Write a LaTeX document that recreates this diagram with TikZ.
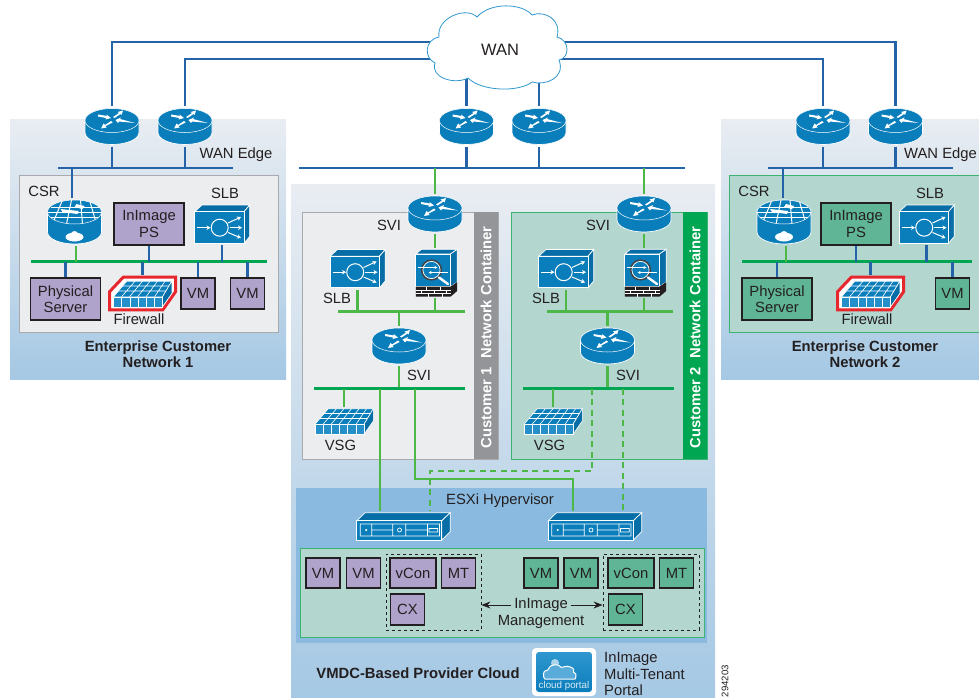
\documentclass[tikz,border=0pt]{standalone}
\usepackage{fontspec}
\setmainfont{Liberation Sans}
\usepackage{xcolor}
\usepackage{tikz}
\usetikzlibrary{arrows.meta,backgrounds}

\definecolor{rtblue}{HTML}{0A7DBB}
\definecolor{rtdark}{HTML}{076DA6}
\definecolor{rtlight}{HTML}{2F97CF}
\definecolor{netblue}{HTML}{2563A9}
\definecolor{netgreen}{HTML}{4DB748}
\definecolor{busgreen}{HTML}{00A651}
\definecolor{vmpurple}{HTML}{B0A3CB}
\definecolor{vmgreen}{HTML}{5FB595}
\definecolor{tealfill}{HTML}{B3D6CF}
\definecolor{tealline}{HTML}{3CB371}
\definecolor{greyfill}{HTML}{EBEDEF}
\definecolor{greyline}{HTML}{A8AAAD}
\definecolor{greyband}{HTML}{939598}
\definecolor{paneltop}{HTML}{E9EDF2}
\definecolor{panelbottom}{HTML}{A5C8E4}
\definecolor{hyperfill}{HTML}{8ABADF}
\definecolor{inktext}{HTML}{231F20}
\definecolor{fwred}{HTML}{E6282E}

\newcommand{\routericon}{%
  \fill[rtblue,draw=white,line width=.7] (-27,-6) -- (-27,6) arc[start angle=180,end angle=0,x radius=27,y radius=12]
    -- (27,-6) arc[start angle=0,end angle=-180,x radius=27,y radius=12] -- cycle;
  \draw[white,fill=rtblue,line width=.5] (0,-6) ellipse[x radius=27,y radius=12];
  \fill[white] (-14,-12) -- (-5,-10.5) -- (-5.5,-12) -- (-1,-8.5) -- (-6.5,-7) -- (-6,-8.5) -- (-14,-10) -- cycle;
  \fill[white] (1,-9.5) -- (7,-13.5) -- (5.5,-14.5) -- (11,-16) -- (9.5,-11.5) -- (8.5,-12.5) -- (2.5,-8.5) -- cycle;
  \fill[white] (23,-3.5) -- (8,-7.5) -- (9,-9) -- (3.5,-6.5) -- (6,-3.5) -- (7,-5) -- cycle;
  \fill[white] (-1,-5.5) -- (-7,-1.5) -- (-8.5,-3) -- (-11,2) -- (-5.5,1) -- (-6.5,-.5) -- (.5,-4) -- cycle;
}
\newcommand{\csricon}{%
  \fill[rtblue,draw=white,line width=.7] (-27,-10) -- (-27,10) arc[start angle=180,end angle=0,x radius=27,y radius=12]
    -- (27,-10) arc[start angle=0,end angle=-180,x radius=27,y radius=12] -- cycle;
  \begin{scope}
    \clip (0,-10) ellipse[x radius=27,y radius=12];
    \fill[rtblue] (-28,-23) rectangle (28,3);
    \draw[white,line width=1] (-24,-15) -- (24,-15) (-28,-10) -- (28,-10) (-24,-5) -- (24,-5);
    \draw[white,line width=1] (-12,-22) -- (-22,2) (-3,-22) -- (-8,2) (6,-22) -- (8,2) (15,-22) -- (22,2);
    \fill[white] (-14,-13) -- (4,-11) -- (3,-8) -- (-12,-10) -- cycle (2,-18) -- (10,-16) -- (8,-13) -- (0,-15) -- cycle;
  \end{scope}
  \draw[white,line width=.5] (0,-10) ellipse[x radius=27,y radius=12];
  \fill[white] (0,15) ellipse[x radius=9,y radius=4.5] (-5,15) circle[radius=3.5] (5,15) circle[radius=3.5] (0,12.5) circle[radius=3.5];
}
\newcommand{\slbicon}{%
  \fill[rtdark,draw=white,line width=.7] (-27.3,-12.3) -- (-20,-19) -- (27.7,-19) -- (22,-12.3) -- cycle;
  \fill[rtdark,draw=white,line width=.7] (22,-12.3) -- (27.7,-19) -- (27.7,12.5) -- (22,19.3) -- cycle;
  \fill[rtblue,draw=white,line width=.7] (-27.3,-12.3) rectangle (22,19.3);
  \draw[white,line width=1] (-2.3,3.7) circle[radius=8.5];
  \draw[white,line width=1,-{Stealth[length=4,width=4.5]}] (-25,3.7) -- (-11.5,3.7);
  \draw[white,line width=1,-{Stealth[length=4,width=4.5]}] (7.5,3.7) -- (20,3.7);
  \draw[white,line width=1,-{Stealth[length=4,width=4.5]}] (6,-1) -- (19,-7);
  \draw[white,line width=1,-{Stealth[length=4,width=4.5]}] (6,8.5) -- (19,14);
}
\newcommand{\asaicon}{%
  \fill[rtdark,draw=white,line width=.7] (-20.7,-19) -- (-15,-23.7) -- (20.7,-23.7) -- (14,-19) -- cycle;
  \fill[rtdark,draw=white,line width=.7] (14,-19) -- (20.7,-23.7) -- (20.7,9) -- (14,13.7) -- cycle;
  \fill[rtblue,draw=white,line width=.7] (-20.7,-19) rectangle (14,13.7);
  \fill[inktext] (-20.7,13.7) rectangle (14,23.7) (14,13.7) -- (20.7,9) -- (20.7,18) -- (14,23.7) -- cycle;
  \draw[white,line width=.7] (-20.7,17) -- (14,17) (-20.7,20.3) -- (14,20.3) (-10,13.7) -- (-10,17) (4,13.7) -- (4,17) (-15,17) -- (-15,20.3) (-2,17) -- (-2,20.3) (10,17) -- (10,20.3) (-8,20.3) -- (-8,23.7) (6,20.3) -- (6,23.7);
  \draw[inktext!85,line width=1.6] (-5,-3) circle[radius=9.8];
  \draw[white,line width=.7] (-5,-3) circle[radius=8.6];
  \draw[white,line width=2.4,line cap=round] (2.5,4.5) -- (11.5,11);
  \draw[white,line width=.7,-{Stealth[length=3,width=3]}] (-19,-5.5) -- (1,-5.5);
  \draw[white,line width=.7,-{Stealth[length=3,width=3]}] (11,-.5) -- (-8,-.5);
}
\newcommand{\fwicon}{%
  \fill[rtblue,draw=white,line width=.6] (-29,3.3) -- (-15.7,-12.3) -- (29.3,-12.3) -- (20,3.3) -- cycle;
  \draw[white,line width=.6] (-24,-2.5) -- (25,-2.5) (-21,-7.5) -- (27,-7.5) (-21,3.3) -- (-7.5,-12.3) (-13,3.3) -- (0,-12.3) (-5,3.3) -- (7.5,-12.3) (3.5,3.3) -- (15,-12.3) (12,3.3) -- (22.5,-12.3);
  \fill[rtdark,draw=white,line width=.6] (20,3.3) -- (29.3,-12.3) -- (29.3,0) -- (20,13.3) -- cycle;
  \fill[rtlight!70!rtblue,draw=white,line width=.6] (-29,3.3) rectangle (20,13.3);
  \draw[white,line width=.6] (-20.8,3.3) -- (-20.8,13.3) (-12.7,3.3) -- (-12.7,13.3) (-4.5,3.3) -- (-4.5,13.3) (3.7,3.3) -- (3.7,13.3) (11.8,3.3) -- (11.8,13.3);
}
\newcommand{\servericon}{%
  \fill[rtdark,draw=white,line width=.7] (-46.7,-5.3) -- (-38.4,-13.3) -- (46.7,-13.3) -- (38.3,-5.3) -- cycle;
  \fill[rtdark,draw=white,line width=.7] (38.3,-5.3) -- (46.7,-13.3) -- (46.7,5.7) -- (38.3,14) -- cycle;
  \fill[rtblue,draw=white,line width=.7] (-46.7,-5.3) rectangle (38.3,14);
  \draw[white,line width=.7] (-43.3,-2) rectangle (36,10) (-31.7,-2) -- (-31.7,10) (-10.7,-2) -- (-10.7,10) (2.3,-2) -- (2.3,10) (24,-2) -- (24,10) (-31.7,4) -- (-10.7,4) (2.3,4) -- (24,4) (-4,4) circle[radius=2] (25.5,2.5) rectangle (34.3,6);
  \fill[white] (-37.3,4) circle[radius=1.2];
}
\newcommand{\portalicon}{%
  \shade[top color=rtlight,bottom color=rtblue,rounded corners=3] (-28,-20) rectangle (28,20);
  \fill[white!60!rtlight] (-9,-9) circle[radius=4];
  \draw[white,line width=1,fill=rtlight!80!white] (-15,7) .. controls (-21,7) and (-21,-1) .. (-15,-1)
    .. controls (-14,-7) and (-6,-8) .. (-3,-3) .. controls (3,-7) and (10,-4) .. (8,1)
    .. controls (12,2) and (12,7) .. (7,7) -- cycle;
}

\tikzset{
  iconnode/.style={inner sep=0pt,outer sep=0pt},
  boxsize/.style 2 args={minimum width=#1,minimum height=#2},
  router/.style={iconnode,boxsize={58}{40},path picture={
    \begin{scope}[shift={(path picture bounding box.center)}]\routericon\end{scope}}},
  csr/.style={iconnode,boxsize={58}{48},path picture={
    \begin{scope}[shift={(path picture bounding box.center)}]\csricon\end{scope}}},
  slb/.style={iconnode,boxsize={58}{42},path picture={
    \begin{scope}[shift={(path picture bounding box.center)}]\slbicon\end{scope}}},
  asa/.style={iconnode,boxsize={44}{50},path picture={
    \begin{scope}[shift={(path picture bounding box.center)}]\asaicon\end{scope}}},
  vsg/.style={iconnode,boxsize={61}{28},path picture={
    \begin{scope}[shift={(path picture bounding box.center)}]\fwicon\end{scope}}},
  firewall/.style={iconnode,boxsize={72}{38},path picture={
    \begin{scope}[shift={(path picture bounding box.center)}]
      \draw[fwred,line width=3,fill=white,line join=miter] (-33,16.3) -- (-33,-1.7) -- (-19.3,-16.3) -- (33,-16.3) -- (33,-1.7) -- (20.3,16.3) -- cycle;
      \begin{scope}[shift={(0,.5)}]\fwicon\end{scope}
    \end{scope}}},
  server/.style={iconnode,boxsize={96}{30},path picture={
    \begin{scope}[shift={(path picture bounding box.center)}]\servericon\end{scope}}},
  portal/.style={iconnode,boxsize={64}{48},fill=white,rounded corners=4,path picture={
    \begin{scope}[shift={(path picture bounding box.center)}]\portalicon\end{scope}}},
  lbl/.style={inner sep=0pt,text=inktext,align=center,font=\fontsize{14.8}{16.5}\selectfont},
  boldlbl/.style={lbl,font=\fontsize{14.8}{16.5}\selectfont\bfseries},
  purplebox/.style={lbl,draw=inktext,fill=vmpurple,line width=1.4},
  greenbox/.style={lbl,draw=inktext,fill=vmgreen,line width=1.4},
  panel/.style={inner sep=0pt,top color=paneltop,bottom color=panelbottom},
  greybox/.style={inner sep=0pt,draw=greyline,fill=greyfill,line width=.9},
  tealbox/.style={inner sep=0pt,draw=tealline,fill=tealfill,line width=.9},
  dashbox/.style={inner sep=0pt,draw=inktext,dashed,line width=.8},
  bandlbl/.style={inner sep=0pt,text=white,rotate=90,font=\fontsize{14.8}{16.5}\selectfont\bfseries},
  blueline/.style={draw=netblue,line width=2.1},
  greenline/.style={draw=netgreen,line width=2.1},
  greendash/.style={draw=netgreen,line width=1.9,dash pattern=on 6pt off 4.5pt},
  greenbus/.style={draw=busgreen,line width=2.8},
  thinbus/.style={draw=netgreen,line width=2.1},
  mgmtarrow/.style={draw=inktext,line width=1,-{Stealth[length=9,width=7]}}
}

\begin{document}
\begin{tikzpicture}[x=1pt,y=-1pt]
  \clip (0,0) rectangle (979,698);

  \begin{pgfonlayer}{background}
    \node[panel,boxsize={276}{259}] (panelA) at (148,249.5) {};
    \node[panel,boxsize={264}{259}] (panelB) at (853,249.5) {};
    \node[panel,boxsize={424}{516}] (panelC) at (503,442) {};
    \node[greybox,boxsize={259}{157}] (innerA) at (148.5,253.5) {};
    \node[tealbox,boxsize={260}{157}] (innerB) at (859,253.5) {};
    \node[greybox,boxsize={196}{247}] (contA) at (400,335.5) {};
    \node[tealbox,boxsize={196}{247}] (contB) at (609,335.5) {};
    \node[fill=greyband,inner sep=0pt,boxsize={24}{247}] (bandA) at (486,335.5) {};
    \node[fill=busgreen,inner sep=0pt,boxsize={24}{247}] (bandB) at (695,335.5) {};
    \node[fill=hyperfill,inner sep=0pt,boxsize={411}{155}] (hyper) at (501.5,565.5) {};
    \node[tealbox,boxsize={404}{89}] (vmpanel) at (502,592.5) {};
  \end{pgfonlayer}

  \draw[draw=rtlight,fill=white,line width=.8] (435,63) .. controls (424,58) and (424,40) .. (439,37)
    .. controls (436,18) and (466,6) .. (477,17) .. controls (490,2) and (522,3) .. (532,15)
    .. controls (545,10) and (562,20) .. (557,37) .. controls (570,40) and (570,58) .. (559,60)
    .. controls (566,78) and (545,86) .. (532,82) .. controls (520,92) and (482,92) .. (468,78)
    .. controls (455,85) and (430,78) .. (435,63) -- cycle;
  \node[lbl,font=\fontsize{16.5}{18}\selectfont] (wan) at (500,50) {WAN};

  \node[router] (rtA) at (112,126.5) {};
  \node[router] (rtB) at (185,126.5) {};
  \node[router] (rtC) at (466.5,126.5) {};
  \node[router] (rtD) at (539,126.5) {};
  \node[router] (rtE) at (823,126.5) {};
  \node[router] (rtF) at (895.5,126.5) {};
  \node[lbl] (edgeA) at (236,155) {WAN Edge};
  \node[lbl] (edgeB) at (940.5,155) {WAN Edge};

  \coordinate (busAl) at (58,168);
  \coordinate (busAr) at (233,168);
  \coordinate (busBl) at (768,168);
  \coordinate (busBr) at (953,168);
  \coordinate (busCl) at (299,168);
  \coordinate (busCr) at (685,168);

  % customer network 1
  \node[lbl] (csrlblA) at (44,191) {CSR};
  \node[csr] (csrA) at (74.5,222) {};
  \node[purplebox,boxsize={70}{42}] (psA) at (149,224) {InImage\\PS};
  \node[slb] (slbA) at (222,224) {};
  \node[lbl] (slblblA) at (225,193) {SLB};
  \coordinate (gbusAl) at (31,261.5);
  \coordinate (gbusAr) at (267,261.5);
  \node[purplebox,boxsize={70}{42}] (physA) at (65.5,299) {Physical\\Server};
  \node[firewall] (fwA) at (142.5,293.5) {};
  \node[lbl] (fwlblA) at (139,319.5) {Firewall};
  \node[purplebox,boxsize={34}{31}] (vmA) at (198,293.5) {VM};
  \node[purplebox,boxsize={34}{31}] (vmB) at (247.5,293.5) {VM};
  \node[boldlbl] (nameA) at (158,354) {Enterprise Customer\\Network 1};

  % customer network 2
  \node[lbl] (csrlblB) at (754,191) {CSR};
  \node[csr] (csrB) at (784,222) {};
  \node[greenbox,boxsize={70}{42}] (psB) at (856,224) {InImage\\PS};
  \node[slb] (slbB) at (926.5,224) {};
  \node[lbl] (slblblB) at (930,193) {SLB};
  \coordinate (gbusBl) at (742,261.5);
  \coordinate (gbusBr) at (972,261.5);
  \node[greenbox,boxsize={70}{42}] (physB) at (777,299) {Physical\\Server};
  \node[firewall] (fwB) at (870.5,293.5) {};
  \node[lbl] (fwlblB) at (867,319.5) {Firewall};
  \node[greenbox,boxsize={34}{31}] (vmC) at (952.5,293.5) {VM};
  \node[boldlbl] (nameB) at (865,354) {Enterprise Customer\\Network 2};

  % provider containers
  \node[bandlbl] (bandlblA) at (486,337.5) {Customer 1\hspace{.6em}Network Container};
  \node[bandlbl] (bandlblB) at (695,337.5) {Customer 2\hspace{.6em}Network Container};
  \node[router] (sviA) at (435,214) {};
  \node[router] (sviB) at (644,214) {};
  \node[lbl] (svilblA) at (389,225) {SVI};
  \node[lbl] (svilblB) at (598,225) {SVI};
  \node[slb] (slbC) at (357.5,268.5) {};
  \node[slb] (slbD) at (566,268.5) {};
  \node[lbl] (slblblC) at (337,298.5) {SLB};
  \node[lbl] (slblblD) at (546,298.5) {SLB};
  \node[asa] (asaA) at (436.5,273) {};
  \node[asa] (asaB) at (645.5,273) {};
  \coordinate (tbusAl) at (338,311.5);
  \coordinate (tbusAr) at (465,311.5);
  \coordinate (tbusBl) at (547,311.5);
  \coordinate (tbusBr) at (673,311.5);
  \node[router] (sviC) at (399,346) {};
  \node[router] (sviD) at (607.5,346) {};
  \node[lbl] (svilblC) at (419,375.5) {SVI};
  \node[lbl] (svilblD) at (628,375.5) {SVI};
  \coordinate (gbusCl) at (314,388.5);
  \coordinate (gbusCr) at (465,388.5);
  \coordinate (gbusDl) at (523,388.5);
  \coordinate (gbusDr) at (674,388.5);
  \node[vsg] (vsgA) at (344,421) {};
  \node[vsg] (vsgB) at (553,421) {};
  \node[lbl] (vsglblA) at (340.5,445) {VSG};
  \node[lbl] (vsglblB) at (549.5,445) {VSG};

  % hypervisor
  \node[lbl] (hyperlbl) at (500,501) {ESXi Hypervisor};
  \node[server] (srvA) at (403.5,526) {};
  \node[server] (srvB) at (595,526) {};
  \node[purplebox,boxsize={34}{30}] (vmD) at (323,573) {VM};
  \node[purplebox,boxsize={34}{30}] (vmE) at (363.5,573) {VM};
  \node[dashbox,boxsize={95}{76}] (dashA) at (433.5,592) {};
  \node[purplebox,boxsize={46}{30}] (vconA) at (413,573) {vCon};
  \node[purplebox,boxsize={34}{30}] (mtA) at (458.5,573) {MT};
  \node[purplebox,boxsize={34}{31}] (cxA) at (407.5,609.5) {CX};
  \node[greenbox,boxsize={34}{30}] (vmF) at (541,573) {VM};
  \node[greenbox,boxsize={34}{30}] (vmG) at (581,573) {VM};
  \node[dashbox,boxsize={96}{76}] (dashB) at (651,592) {};
  \node[greenbox,boxsize={46}{30}] (vconB) at (631,573) {vCon};
  \node[greenbox,boxsize={34}{30}] (mtB) at (676.5,573) {MT};
  \node[greenbox,boxsize={34}{31}] (cxB) at (625.5,609.5) {CX};
  \node[lbl] (mgmt) at (541,605) {InImage};
  \node[lbl] (mgmtb) at (541,622) {Management};
  \draw[mgmtarrow] (mgmt.west) ++(-3,0) -- (dashA.east |- mgmt);
  \draw[mgmtarrow] (mgmt.east) ++(3,0) -- (dashB.west |- mgmt);

  % portal
  \node[boldlbl] (nameC) at (418,673) {VMDC-Based Provider Cloud};
  \node[portal] (portal) at (564,672) {};
  \node[inner sep=0pt,text=white!85!rtblue,font=\fontsize{9.8}{11}\selectfont] (portallbl) at (564,685.5) {cloud portal};
  \node[lbl,align=left,anchor=west] (portaltxt) at (604,674) {InImage\\Multi-Tenant\\Portal};
  \node[inner sep=0pt,rotate=90,text=inktext,font=\fontsize{9.6}{11}\selectfont] (figid) at (725,681) {294203};

  \begin{pgfonlayer}{background}
    \draw[blueline] (rtA) |- ([yshift=8pt]wan.center);
    \draw[blueline] (rtB) |- ([yshift=-9pt]wan.center);
    \draw[blueline] (rtE) |- ([yshift=-9pt]wan.center);
    \draw[blueline] (rtF) |- ([yshift=8pt]wan.center);
    \draw[blueline] (rtC) -- (rtC |- wan);
    \draw[blueline] (rtD) -- (rtD |- wan);

    \draw[blueline] (busAl) -- (busAr);
    \draw[blueline] (busBl) -- (busBr);
    \draw[blueline] (busCl) -- (busCr);
    \draw[blueline] (rtA) -- (rtA |- busAl);
    \draw[blueline] (rtB) -- (rtB |- busAl);
    \draw[blueline] (rtC) -- (rtC |- busCl);
    \draw[blueline] (rtD) -- (rtD |- busCl);
    \draw[blueline] (rtE) -- (rtE |- busBl);
    \draw[blueline] (rtF) -- (rtF |- busBl);
    \draw[blueline] ([xshift=-2.5pt]csrA.north) -- ([xshift=-2.5pt]csrA.north |- busAl);
    \draw[blueline] ([xshift=-1pt]csrB.north) -- ([xshift=-1pt]csrB.north |- busBl);

    \draw[greenbus] (gbusAl) -- (gbusAr);
    \draw[greenbus] (gbusBl) -- (gbusBr);
    \draw[greenline] ([xshift=1.5pt]csrA.south) -- ([xshift=1.5pt]csrA.south |- gbusAl);
    \draw[greenline] ([xshift=2pt]csrB.south) -- ([xshift=2pt]csrB.south |- gbusBl);
    \draw[blueline] (psA) -- (psA |- gbusAl);
    \draw[blueline] (slbA) -- (slbA |- gbusAl);
    \draw[blueline] (physA) -- (physA |- gbusAl);
    \draw[blueline] (fwA) -- (fwA |- gbusAl);
    \draw[blueline] (vmA) -- (vmA |- gbusAl);
    \draw[blueline] (vmB) -- (vmB |- gbusAl);
    \draw[blueline] (psB) -- (psB |- gbusBl);
    \draw[blueline] (slbB) -- (slbB |- gbusBl);
    \draw[blueline] (physB) -- (physB |- gbusBl);
    \draw[blueline] (fwB) -- (fwB |- gbusBl);
    \draw[blueline] (vmC) -- (vmC |- gbusBl);

    \draw[greenline] (sviA) -- (sviA |- busCl);
    \draw[greenline] (sviB) -- (sviB |- busCl);
    \draw[greenline] (sviA) -- (sviA |- asaA.north);
    \draw[greenline] (sviB) -- (sviB |- asaB.north);
    \draw[thinbus] (tbusAl) -- (tbusAr);
    \draw[thinbus] (tbusBl) -- (tbusBr);
    \draw[greenline] (slbC) -- (slbC |- tbusAl);
    \draw[greenline] (slbD) -- (slbD |- tbusBl);
    \draw[greenline] ([xshift=-1.5pt]asaA.south) -- ([xshift=-1.5pt]asaA.south |- tbusAl);
    \draw[greenline] ([xshift=-1.5pt]asaB.south) -- ([xshift=-1.5pt]asaB.south |- tbusBl);
    \draw[greenline] (sviC) -- (sviC |- tbusAl);
    \draw[greenline] (sviD) -- (sviD |- tbusBl);
    \draw[greenline] (sviC) -- (sviC |- gbusCl);
    \draw[greenline] (sviD) -- (sviD |- gbusDl);
    \draw[greenbus] (gbusCl) -- (gbusCr);
    \draw[greenbus] (gbusDl) -- (gbusDr);
    \draw[greenline] (vsgA) -- (vsgA |- gbusCl);
    \draw[greenline] (vsgB) -- (vsgB |- gbusDl);

    \coordinate (hopA) at (415,388.5);
    \coordinate (hopB) at (592,388.5);
    \coordinate (hopC) at (623,388.5);
    \coordinate (hopD) at (380,388.5);
    \draw[greenline] (hopD) -- (hopD |- srvA.north);
    \draw[greenline] (hopA) |- (573,479) -- ([xshift=-22pt]srvB.north);
    \draw[greendash] (hopB) |- (430,471) -- ([xshift=26.5pt]srvA.north);
    \draw[greendash] (hopC) -- (hopC |- srvB.north);
  \end{pgfonlayer}
\end{tikzpicture}
\end{document}
